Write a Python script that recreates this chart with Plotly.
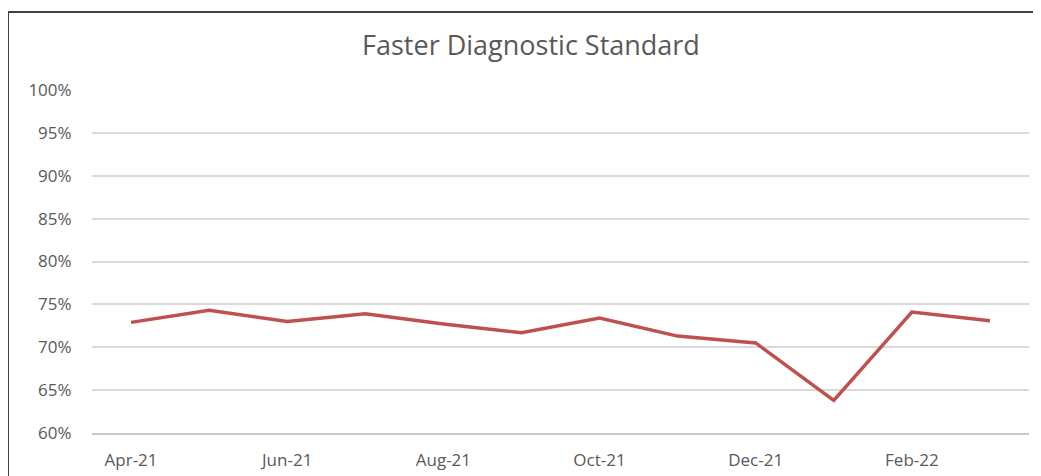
import plotly.graph_objects as go

months = ["Apr-21", "May-21", "Jun-21", "Jul-21", "Aug-21", "Sep-21",
          "Oct-21", "Nov-21", "Dec-21", "Jan-22", "Feb-22", "Mar-22"]
fds_pct = [72.9, 74.3, 73.0, 73.9, 72.7, 71.7, 73.4, 71.3, 70.5, 63.8, 74.1, 73.1]
y_ticks = [60, 65, 70, 75, 80, 85, 90, 95, 100]
title_text = "Faster Diagnostic Standard"

grey_text = "#595959"
font_fam = "'Open Sans', 'Noto Sans', sans-serif"

# page body has an 8px margin, so the figure is sized to fit in the window
W, H = 1033, 468
L, R, T, B = 84, 12, 82, 43
plot_w = W - L - R
plot_h = H - T - B

fig = go.Figure()
fig.add_trace(go.Scatter(
    x=months, y=fds_pct, mode="lines",
    line=dict(color="#c0504d", width=3.5),
    hoverinfo="x+y", showlegend=False,
))

n = len(months)
boundaries = [i - 0.5 for i in range(0, n + 1, 2)]

fig.update_layout(
    width=W, height=H,
    margin=dict(l=L, r=R, t=T, b=B, autoexpand=False),
    paper_bgcolor="white", plot_bgcolor="white",
    title=dict(text=title_text, x=0.4685, xref="paper", y=1 - 38 / H,
               yref="container", yanchor="middle", xanchor="center",
               font=dict(family=font_fam, size=27, color=grey_text)),
    font=dict(family=font_fam, size=17, color=grey_text),
    xaxis=dict(
        type="category", categoryorder="array", categoryarray=months,
        range=[-0.5, n - 0.5], automargin=False,
        tickmode="array", tickvals=months[::2], ticktext=months[::2],
        ticks="outside", ticklen=11, tickcolor="rgba(0,0,0,0)",
        showgrid=False, showline=True, linecolor="#c8c8c8", linewidth=1.5,
        zeroline=False, tickfont=dict(size=17, color=grey_text),
    ),
    xaxis2=dict(
        overlaying="x", anchor="y", side="bottom", automargin=False,
        range=[-0.5, n - 0.5], tickmode="array", tickvals=boundaries,
        ticks="outside", ticklen=6, tickcolor="#c8c8c8", tickwidth=1.5,
        showticklabels=False, showgrid=False, showline=False, zeroline=False,
    ),
    yaxis=dict(
        range=[60, 100], tickmode="array", tickvals=y_ticks, automargin=False,
        ticktext=[f"{v}%" for v in y_ticks],
        ticks="outside", ticklen=16, tickcolor="rgba(0,0,0,0)",
        showgrid=True, gridcolor="#d9d9d9", gridwidth=1.5,
        zeroline=False, showline=False,
        tickfont=dict(size=17, color=grey_text),
    ),
    shapes=[dict(
        type="rect", xref="paper", yref="paper",
        x0=(0 - L) / plot_w, x1=1.2, y0=-0.5, y1=(plot_h + T - 4) / plot_h,
        line=dict(color="#404040", width=2), fillcolor="rgba(0,0,0,0)",
        layer="below",
    )],
)

fig.write_html("out.html")
